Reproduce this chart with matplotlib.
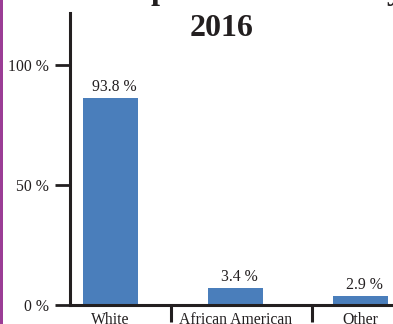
import matplotlib
matplotlib.use("Agg")
import matplotlib.pyplot as plt
from matplotlib.patches import Rectangle

# data
categories = ["White", "African American", "Other"]
percentages = [93.8, 3.4, 2.9]          # printed labels
bar_heights = [86.4, 7.1, 3.8]          # bar heights as drawn
y_ticks = [0, 50, 100]
y_tick_labels = ["0 %", "50 %", "100 %"]
separators = [0.48, 1.61]

plt.rcParams["font.family"] = ["Liberation Serif", "DejaVu Serif"]
ink = "#231f20"

fig = plt.figure(figsize=(3.93, 3.24), dpi=100)
ax = fig.add_axes([70 / 393, 19 / 324, 323 / 393, 292 / 324])

x = list(range(len(categories)))
bars = ax.bar(x, bar_heights, width=0.44, color="#4a7ebb")
for b, p in zip(bars, percentages):
    ax.annotate(f"{p} %", (b.get_x() + b.get_width() / 2, b.get_height()),
                xytext=(3, 2), textcoords="offset points", ha="center", va="bottom",
                fontsize=11.3, color=ink)

ax.set_xlim(-0.324, 2.26)
ax.set_ylim(0, 121.7)

ax.set_yticks(y_ticks, y_tick_labels, fontsize=11.3, color=ink)
ax.tick_params(axis="y", length=11, width=2, color=ink, pad=4)
ax.set_xticks(x, categories, fontsize=11.3, color=ink)
ax.tick_params(axis="x", which="major", length=0, pad=5)
ax.set_xticks(separators, minor=True)
ax.tick_params(axis="x", which="minor", length=12, width=2.2, color=ink, direction="out")

for s in ["top", "right"]:
    ax.spines[s].set_visible(False)
for s in ["left", "bottom"]:
    ax.spines[s].set_linewidth(2.2)
    ax.spines[s].set_color(ink)

# title, first line mostly cut off at the top edge
fig.text(222 / 393, 1 + 1 / 324, "Racial composition of the city by",
         ha="center", va="baseline", fontsize=23, fontweight="bold", color=ink)
fig.text(222 / 393, 1 - 36 / 324, "2016",
         ha="center", va="baseline", fontsize=23, fontweight="bold", color=ink)

# purple edge on the left
fig.add_artist(Rectangle((0, 0), 2.5 / 393, 1, transform=fig.transFigure,
                         color="#9b3d96", lw=0))

fig.savefig("out.png", dpi=100)
